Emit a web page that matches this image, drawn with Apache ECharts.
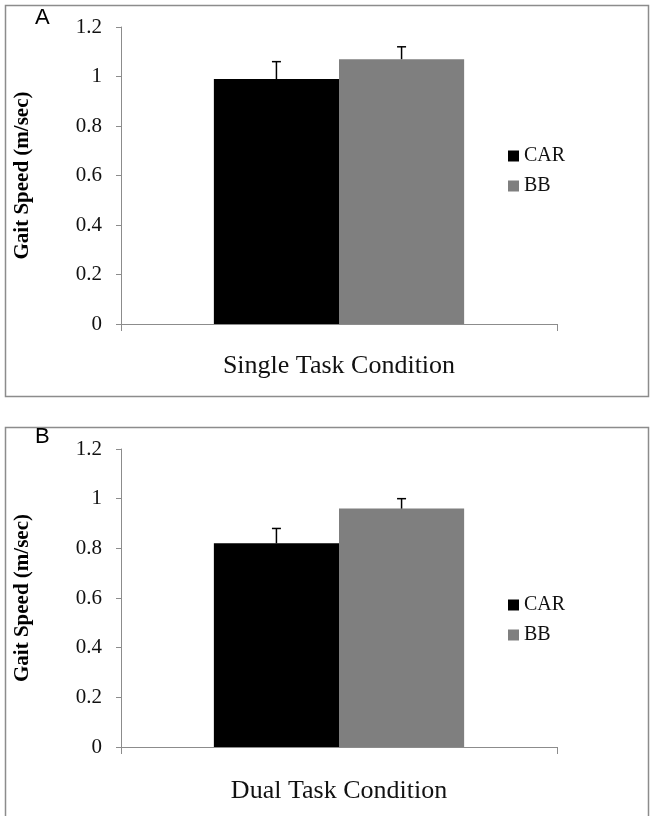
<!DOCTYPE html>
<html><head><meta charset="utf-8">
<script src="https://cdn.jsdelivr.net/npm/echarts@6/dist/echarts.min.js"></script>
<style>html,body{margin:0;padding:0;background:#fff}#c{width:653px;height:816px}</style>
</head><body><div id="c"></div>
<script>
const groups = ['CAR', 'BB'];
const panelLabels = ['A', 'B'];
const conditions = ['Single Task Condition', 'Dual Task Condition'];
const carMeans = [0.99, 0.82];
const carErrors = [0.07, 0.06];
const bbMeans = [1.07, 0.96];
const bbErrors = [0.05, 0.04];
const yTicks = [0, 0.2, 0.4, 0.6, 0.8, 1, 1.2];

const colors = {CAR: '#000000', BB: '#7f7f7f'};
const serif = '"Liberation Serif", serif';
const grids = [
  {left: 121, right: 96, top: 27, height: 297},
  {left: 121, right: 96, top: 449, height: 298}
];
const legendTops = [141, 590];
const labelMargins = [29, 31];
const barWidthFrac = 0.287;

const chart = echarts.init(document.getElementById('c'));
const xAxes = [], yAxes = [], series = [], legends = [], graphics = [];

grids.forEach((g, i) => {
  xAxes.push({
    gridIndex: i, type: 'category', data: [conditions[i]],
    axisLine: {lineStyle: {color: '#8c8c8c', width: 1}},
    axisTick: {show: true, length: 7, lineStyle: {color: '#8c8c8c'}},
    axisLabel: {fontFamily: serif, fontSize: 26, color: '#111', margin: labelMargins[i]}
  });
  yAxes.push({
    gridIndex: i, type: 'value', min: yTicks[0], max: yTicks[yTicks.length - 1], interval: 0.2,
    name: 'Gait Speed (m/sec)', nameLocation: 'middle', nameGap: 88,
    nameTextStyle: {fontFamily: serif, fontSize: 21, fontWeight: 'bold', color: '#000'},
    axisLine: {show: true, lineStyle: {color: '#8c8c8c', width: 1}},
    axisTick: {show: true, length: 5, lineStyle: {color: '#8c8c8c'}},
    splitLine: {show: false},
    axisLabel: {fontFamily: serif, fontSize: 21, color: '#111', margin: 19,
      formatter: v => String(Math.round(v * 10) / 10)}
  });
  const means = [carMeans[i], bbMeans[i]];
  const errs = [carErrors[i], bbErrors[i]];
  groups.forEach((name, k) => {
    series.push({
      type: 'bar', name: name, xAxisIndex: i, yAxisIndex: i,
      data: [means[k]], barWidth: (barWidthFrac * 100) + '%', barGap: '0%',
      itemStyle: {color: colors[name]}, silent: true
    });
  });
  groups.forEach((name, k) => {
    series.push({
      type: 'custom', name: name + ' err', xAxisIndex: i, yAxisIndex: i,
      data: [[0, means[k], errs[k]]],
      renderItem: (params, api) => {
        const catW = api.size([1, 0])[0];
        const off = (k === 0 ? -1 : 1) * catW * barWidthFrac / 2;
        const base = api.coord([api.value(0), api.value(1)]);
        const top = api.coord([api.value(0), api.value(1) + api.value(2)]);
        const x = base[0] + off;
        const cap = 4.5;
        return {type: 'group', children: [
          {type: 'line', shape: {x1: x, y1: base[1], x2: x, y2: top[1]}, style: {stroke: '#000', lineWidth: 1.5}},
          {type: 'line', shape: {x1: x - cap, y1: top[1], x2: x + cap, y2: top[1]}, style: {stroke: '#000', lineWidth: 1.5}}
        ]};
      },
      z: 5, silent: true
    });
  });
  legends.push({
    data: groups, orient: 'vertical', left: 503, top: legendTops[i], itemGap: 10,
    icon: 'rect', itemWidth: 11, itemHeight: 11,
    textStyle: {fontFamily: serif, fontSize: 20, color: '#111'},
    selectedMode: false
  });
});

graphics.push({type: 'rect', shape: {x: 5.5, y: 5.5, width: 643, height: 391}, style: {fill: 'none', stroke: '#8c8c8c', lineWidth: 1.5}});
graphics.push({type: 'rect', shape: {x: 5.5, y: 427.5, width: 643, height: 400}, style: {fill: 'none', stroke: '#8c8c8c', lineWidth: 1.5}});
graphics.push({type: 'text', left: 35, top: 7, style: {text: panelLabels[0], font: '22px "Liberation Sans", Arial, sans-serif', fill: '#000'}});
graphics.push({type: 'text', left: 35, top: 426, style: {text: panelLabels[1], font: '22px "Liberation Sans", Arial, sans-serif', fill: '#000'}});

chart.setOption({
  animation: false,
  grid: grids,
  xAxis: xAxes,
  yAxis: yAxes,
  legend: legends,
  series: series,
  graphic: graphics
});
</script></body></html>
